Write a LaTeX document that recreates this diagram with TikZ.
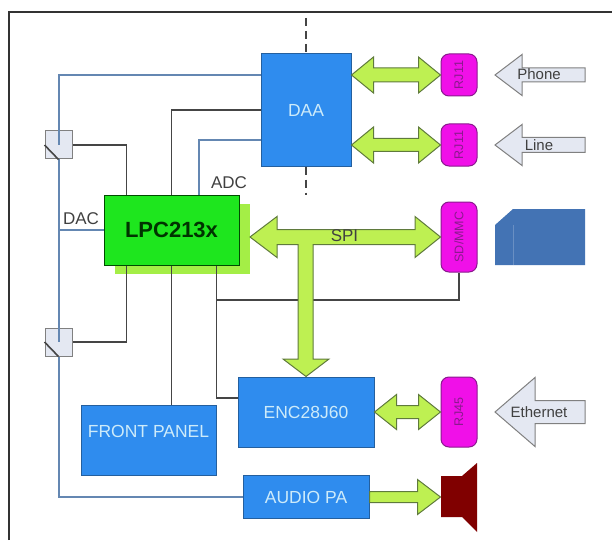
\documentclass[tikz,border=0pt]{standalone}
\usepackage{fontspec}
\setmainfont{Liberation Sans}
\usetikzlibrary{calc}

\definecolor{boxblue}{HTML}{2F8CEE}
\definecolor{boxedge}{HTML}{245F9E}
\definecolor{boxtext}{HTML}{CDEBFA}
\definecolor{wireblue}{HTML}{6487B2}
\definecolor{wiredark}{HTML}{454545}
\definecolor{chipgreen}{HTML}{1EE61E}
\definecolor{chipshade}{HTML}{A4EE46}
\definecolor{busgreen}{HTML}{BEF052}
\definecolor{busedge}{HTML}{5F7A3C}
\definecolor{portpink}{HTML}{F010E8}
\definecolor{porttext}{HTML}{8A1A8E}
\definecolor{paleblue}{HTML}{E4E8F2}
\definecolor{cardblue}{HTML}{4373B4}

\begin{document}
\begin{tikzpicture}[
  x=1pt, y=-1pt,
  blk/.style={draw=boxedge, fill=boxblue, text=boxtext, line width=1pt, inner sep=0pt,
              font=\fontsize{17.5}{19}\selectfont, minimum width=#1},
  port/.style={draw=porttext, fill=portpink, text=porttext, line width=1pt, rounded corners=8pt,
               inner sep=0pt, minimum width=36pt, minimum height=#1,
               font=\fontsize{12.5}{14}\selectfont},
  swbox/.style={draw=gray, fill=paleblue, line width=1pt, inner sep=0pt,
                minimum width=27pt, minimum height=28pt},
  wireb/.style={draw=wireblue, line width=2pt},
  wired/.style={draw=wiredark, line width=1.6pt},
  lbl/.style={text=black!75, inner sep=0pt, font=\fontsize{17}{19}\selectfont},
  lblin/.style={text=black!75, inner sep=0pt, font=\fontsize{15}{17}\selectfont},
  fat/.style={draw=busedge, fill=busgreen, line width=1pt},
  pale/.style={draw=gray, fill=paleblue, line width=1pt},
  % head half height, head length, shaft half height
  fatdbl/.style n args={3}{to path={let \p1=(\tikztostart), \p2=(\tikztotarget) in
    -- (\x1+#2,\y1+#1) -- (\x1+#2,\y1+#3) -- (\x2-#2,\y1+#3) -- (\x2-#2,\y1+#1) -- (\p2)
    -- (\x2-#2,\y1-#1) -- (\x2-#2,\y1-#3) -- (\x1+#2,\y1-#3) -- (\x1+#2,\y1-#1) -- cycle}},
  fatsgl/.style n args={3}{to path={let \p1=(\tikztostart), \p2=(\tikztotarget) in
    -- (\x1,\y1+#3) -- (\x2-#2,\y1+#3) -- (\x2-#2,\y1+#1) -- (\p2)
    -- (\x2-#2,\y1-#1) -- (\x2-#2,\y1-#3) -- (\x1,\y1-#3) -- cycle}},
]
\useasboundingbox (0,0) rectangle (612,540);

%% ===== FRAME =====
\draw[draw=black!80, line width=1.6pt] (9,540) -- (9,12) -- (612,12);

%% ===== BLOCKS =====
\node[fill=chipshade, minimum width=135pt, minimum height=70pt, inner sep=0pt] (lpcshade) at (182.5,239) {};
\node[draw=black!70!green, fill=chipgreen, line width=1pt, minimum width=135pt, minimum height=70pt,
      inner sep=0pt, text=black!80!green, font=\bfseries\fontsize{22}{24}\selectfont] (lpc) at (171.5,230) {LPC213x};

\node[blk=90pt, minimum height=112pt] (daa) at (306,110) {DAA};
\node[blk=135pt, minimum height=70pt, text depth=18pt] (panel) at (148.5,440) {FRONT PANEL};
\node[blk=136pt, minimum height=70pt] (enc) at (306,412) {ENC28J60};
\node[blk=126pt, minimum height=43pt] (audio) at (306,497) {AUDIO PA};

\node[port=42pt] (rjphone) at (459,75) {\rotatebox{90}{RJ11}};
\node[port=42pt] (rjline) at (459,145) {\rotatebox{90}{RJ11}};
\node[port=70pt] (sdmmc) at (459,237) {\rotatebox{90}{SD/MMC}};
\node[port=70pt] (rjeth) at (459,412) {\rotatebox{90}{RJ45}};

\node[swbox] (swa) at (58.5,145) {};
\node[swbox] (swb) at (58.5,342) {};

\coordinate (spitip) at (250,237);
\coordinate (spijn) at (216,300);
\coordinate (dashtop) at (306,18);
\coordinate (dashbot) at (306,195);

%% ===== WIRES =====
\draw[wireb] ([yshift=35pt]daa.west) -| (swa.center);
\draw[wireb] (swa.south) -- (swb.center);
\draw[wireb] (swb.south) |- (audio.west);
\draw[wireb] (lpc.west) -- (lpc.west -| swa.center);
\draw[wireb] ([xshift=27pt]lpc.north) |- ([yshift=-30pt]daa.west);

\draw[wired] (swa.west) -- (swa.south);
\draw[wired] (swb.west) -- (swb.south);

\draw[wired] (swa.east) -| ([xshift=-45pt]lpc.north);
\draw[wired] (lpc.north) |- (daa.west);
\draw[wired] ([xshift=-45pt]lpc.south) |- (swb.east);
\draw[wired] (lpc.south) -- (lpc.south |- panel.north);
\draw[wired] ([xshift=45pt]lpc.south) |- ([yshift=14pt]enc.west);
\draw[wired] (spijn) -| (sdmmc.south);

\draw[wired, dash pattern=on 8pt off 5pt] (dashtop) -- (daa.north);
\draw[wired, dash pattern=on 8pt off 5pt] (daa.south) -- (dashbot);

%% ===== BUSES =====
\draw[fat, fatdbl={18pt}{22pt}{7pt}] (rjphone.west -| daa.east) to (rjphone.west);
\draw[fat, fatdbl={18pt}{22pt}{6.5pt}] (rjline.west -| daa.east) to (rjline.west);
\draw[fat, fatdbl={17.5pt}{22pt}{6.5pt}] (enc.east) to (rjeth.west);
\draw[fat, fatsgl={17.5pt}{23pt}{5.5pt}] (audio.east) to (audio.east -| rjeth.west);

% SPI bus with its branch down to the ethernet chip
\draw[fat] (spitip) -- (277,216.5) -- (277,229.5) -- (415,229.5) -- (415,216.5) -- (sdmmc.west)
  -- (415,257.5) -- (415,244.5) -- (313,244.5) -- (313,359) -- (329,359) -- (enc.north)
  -- (283,359) -- (298,359) -- (298,244.5) -- (277,244.5) -- (277,257.5) -- cycle;

%% ===== OUTSIDE WORLD =====
\coordinate (phonetail) at (585,75);
\coordinate (linetail) at (585,145);
\coordinate (ethtail) at (585,412);
\draw[pale, fatsgl={20.5pt}{-27pt}{7pt}] (phonetail) to (495,75);
\draw[pale, fatsgl={20.5pt}{-27pt}{7.5pt}] (linetail) to (495,145);
\draw[pale, fatsgl={34.5pt}{-40pt}{11.5pt}] (ethtail) to (495,412);

\fill[cardblue] (495,225) -- (513,209) -- (585,209) -- (585,265) -- (495,265) -- cycle;
\draw[cardblue!80!white, line width=0.6pt] (513,225) -- (513,265);

\fill[red!50!black] (441,476) -- (462,476) -- (477,463) -- (477,532) -- (462,517) -- (441,517) -- cycle;

%% ===== LABELS =====
\node[lbl] (adclbl) at (229,183) {ADC};
\node[lbl] (daclbl) at (81,219) {DAC};
\node[lbl] (spilbl) at (344.5,236) {SPI};
\node[lblin] (phonelbl) at (539,74) {Phone};
\node[lblin] (linelbl) at (539,145) {Line};
\node[lblin] (ethlbl) at (539,412) {Ethernet};

\end{tikzpicture}
\end{document}
